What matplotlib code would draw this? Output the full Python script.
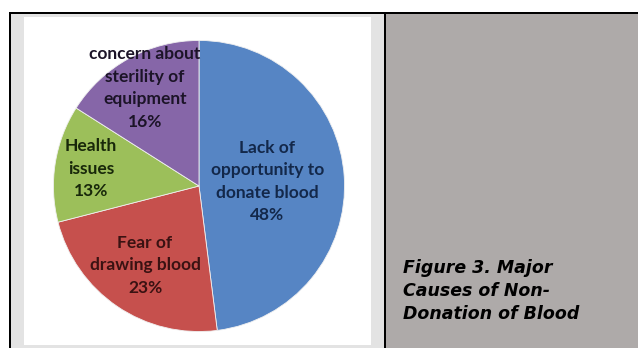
import matplotlib.pyplot as plt
import numpy as np
from matplotlib.patches import Rectangle

# Data
causes = ['Lack of\nopportunity to\ndonate blood', 'Fear of\ndrawing blood',
          'Health\nissues', 'concern about\nsterility of\nequipment']
persen = [48, 23, 13, 16]
warna = ['#5685c4', '#c6504d', '#9cbf5a', '#8666a8']
warna_teks = ['#13284a', '#3a1212', '#18280a', '#1c1428']
jarak_label = [0.47, 0.66, 0.75, 0.77]

W, H = 638, 348
fig = plt.figure(figsize=(W / 100, H / 100), dpi=100)
fig.patch.set_facecolor('white')

def kotak(x0, y0, x1, y1, warna_isi):
    # koordinat piksel dari kiri-atas
    fig.patches.append(Rectangle((x0 / W, 1 - y1 / H), (x1 - x0) / W, (y1 - y0) / H,
                                 transform=fig.transFigure, facecolor=warna_isi,
                                 edgecolor='none', zorder=-1))

# Sel tabel: kiri (grafik) dan kanan (keterangan)
kotak(9, 12, 638, 348, 'black')
kotak(11, 14, 384, 348, '#e3e3e3')
kotak(24, 17, 371, 345, 'white')
kotak(386, 14, 638, 348, '#aeaaa9')

# Pie
cx, cy, r = 199, 186, 147
ax = fig.add_axes([(cx - r) / W, (H - cy - r) / H, 2 * r / W, 2 * r / H])
ax.set_zorder(2)
ax.patch.set_visible(False)
wedges, _ = ax.pie(persen, colors=warna, startangle=90, counterclock=False,
                   radius=1, wedgeprops=dict(linewidth=0.6, edgecolor='#f0f0f0'))
ax.set_xlim(-1.01, 1.01)
ax.set_ylim(-1.01, 1.01)
ax.set_aspect('equal')
ax.axis('off')

for w, nama, p, d, c in zip(wedges, causes, persen, jarak_label, warna_teks):
    sudut = np.deg2rad((w.theta1 + w.theta2) / 2)
    ax.text(d * np.cos(sudut), d * np.sin(sudut), f'{nama}\n{p}%',
            ha='center', va='center', fontsize=12.5, family='Lato',
            fontweight='bold', color=c, linespacing=1.5)

# Keterangan gambar
fig.text(403 / W, 1 - 259 / H, 'Figure 3. Major\nCauses of Non-\nDonation of Blood',
         ha='left', va='top', fontsize=12.5, fontweight='bold', style='italic',
         family='DejaVu Sans', color='black', linespacing=1.36, zorder=3)

fig.savefig('out.png', dpi=100)
